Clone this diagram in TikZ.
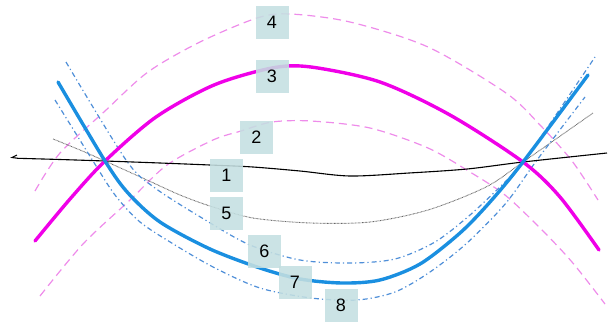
\documentclass[tikz,border=0pt]{standalone}
\usepackage{fontspec}
\setmainfont{Liberation Sans}
\begin{document}
\begin{tikzpicture}[x=1pt,y=-1pt,
  thickmag/.style={line width=3.4pt,color=magc,line cap=round},
  thinpink/.style={line width=1.2pt,color=pinkc,dash pattern=on 8pt off 5pt},
  thickblue/.style={line width=3.4pt,color=bluec,line cap=round},
  dashdotblue/.style={line width=1.2pt,color=blued,dash pattern=on 5pt off 3pt on 1.2pt off 3pt},
  blackline/.style={line width=1.1pt,color=black},
  dottedline/.style={line width=0.9pt,color=gray!80!black,dash pattern=on 0.7pt off 0.7pt},
  lab/.style={fill=boxc,fill opacity=0.88,text opacity=1,minimum width=33pt,minimum height=33pt,inner sep=0pt,font=\fontsize{18}{18}\selectfont}
]
\definecolor{magc}{HTML}{F000E8}
\definecolor{pinkc}{HTML}{EE8CEA}
\definecolor{bluec}{HTML}{1A8FE0}
\definecolor{blued}{HTML}{4F8FD8}
\definecolor{boxc}{HTML}{C4DFE1}
\useasboundingbox (0,0) rectangle (610,322);

% 4 dashed pink
\draw[thinpink] plot[smooth] coordinates {(35,191)(60,153)(105,111)(148,72)(200,42)(257,18)(290,14)(350,22)(428,47)(506,93)(540,125)(572,161)(598,200)};
% 2 dashed pink
\draw[thinpink] plot[smooth] coordinates {(40,296)(83,244)(130,200)(167,165)(213,140)(241,131)(272,122)(311,121)(370,128)(428,148)(470,172)(505,195)(540,228)(572,262)(605,304)};
% 5 dotted
\draw[dottedline] plot[smooth] coordinates {(53,139)(80,150)(105,161)(147,180)(180,195)(210,206)(253,218)(311,223)(370,222)(428,210)(486,187)(523,162)(593,113)};
% 6 dash dot upper
\draw[dashdotblue] plot[smooth] coordinates {(66,62)(126,160)(155,188)(207,221)(250,245)(300,260)(350,263)(395,259)(435,242)(470,215)(505,182)(525,160)(595,57)};
% 8 dash dot lower
\draw[dashdotblue] plot[smooth] coordinates {(55,100)(93,161)(115,195)(140,222)(175,245)(215,268)(260,288)(311,298)(357,300)(395,292)(430,272)(467,243)(506,203)(537,160)(585,97)};
% 1 black
\draw[blackline] (17,155) -- (12,157.5) -- (18,158.3);
\draw[blackline] plot[smooth] coordinates {(18,158.3)(60,159.5)(105,161)(160,163)(210,165)(253,167)(300,171)(350,176)(409,173)(467,169)(523,162)(607,153)};
% 3 magenta thick
\draw[thickmag] plot[smooth] coordinates {(35,241)(70,199)(105,161)(156,117)(214,85)(272,68)(311,67)(380,82)(450,115)(523,162)(560,197)(599,250)};
% 7 blue thick
\draw[thickblue] plot[smooth] coordinates {(58,82)(105,161)(128,193)(160,222)(210,249)(260,268)(300,279)(342,283)(380,280)(420,264)(460,233)(490,202)(523,162)(588,75)};

\node[lab] (l4) at (272,22) {4};
\node[lab] (l3) at (272,76) {3};
\node[lab] (l2) at (256.5,137.5) {2};
\node[lab] (l1) at (226.5,175.5) {1};
\node[lab] (l5) at (226.5,213.5) {5};
\node[lab] (l6) at (264.5,251) {6};
\node[lab] (l7) at (295,282) {7};
\node[lab] (l8) at (341,305) {8};
\end{tikzpicture}
\end{document}
